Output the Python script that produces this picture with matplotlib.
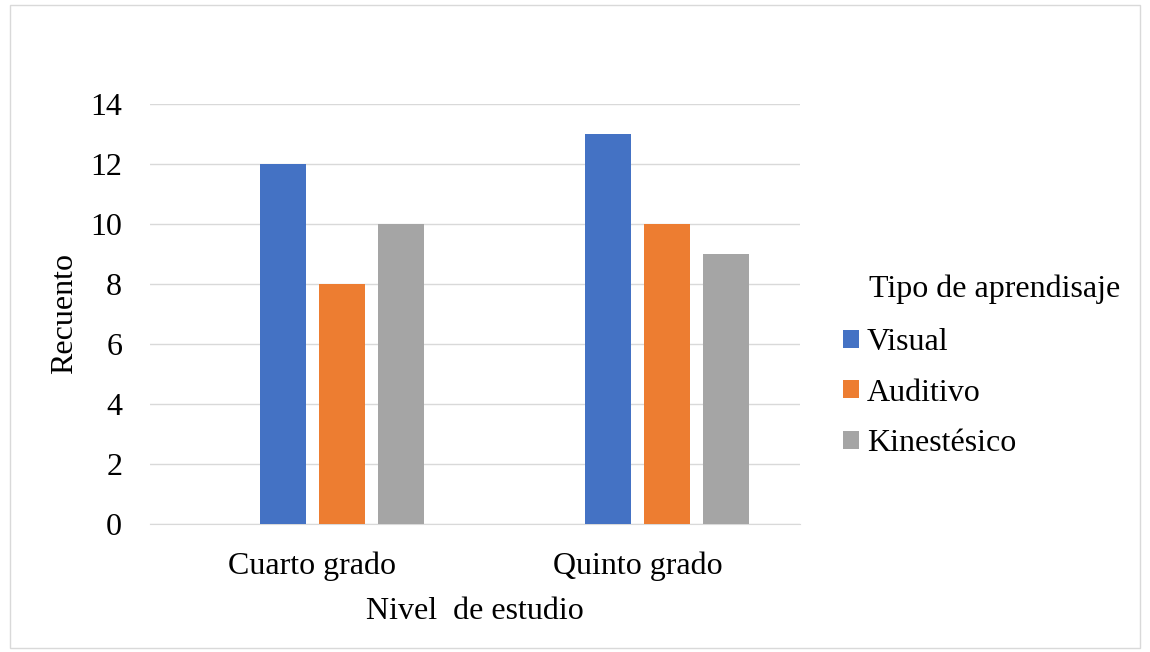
import matplotlib
matplotlib.use("Agg")
import matplotlib.pyplot as plt
import numpy as np
from matplotlib.patches import Rectangle

categories = ["Cuarto grado", "Quinto grado"]
series_names = ["Visual", "Auditivo", "Kinestésico"]
visual = [12, 13]
auditivo = [8, 10]
kinestesico = [10, 9]
colors = ["#4472C4", "#ED7D31", "#A5A5A5"]
legend_title = "Tipo de aprendisaje"

plt.rcParams['font.family'] = ['Liberation Serif', 'DejaVu Serif']
FS = 23

W, H = 1150, 652
fig = plt.figure(figsize=(W / 100, H / 100), dpi=100)
fig.patches.append(Rectangle((10 / W, 4 / H), 1130 / W, 643 / H, transform=fig.transFigure,
                             fill=False, edgecolor="#D9D9D9", linewidth=1))
ax = fig.add_axes([150 / W, (H - 524) / H, 650 / W, 420 / H])

x = np.arange(len(categories))
w = 0.1415
step = 0.1815
# Excel layout: four slots per category, the first slot is empty
n_slots = 4
offsets = (np.arange(n_slots) - (n_slots - 1) / 2) * step
handles = []
for i, (vals, name) in enumerate(zip([visual, auditivo, kinestesico], series_names)):
    b = ax.bar(x + offsets[i + 1], vals, width=w, color=colors[i], label=name, zorder=3)
    handles.append(b)

ax.set_xlim(-0.5, 1.5)
ax.set_ylim(0, 14)
ax.set_yticks(range(0, 15, 2))
ax.yaxis.grid(True, color="#D9D9D9", linewidth=1, zorder=0)
for s in ["top", "right", "left"]:
    ax.spines[s].set_visible(False)
ax.spines["bottom"].set_color("#D9D9D9")
ax.tick_params(axis="both", length=0, labelsize=FS)
ax.tick_params(axis="y", pad=20)
ax.tick_params(axis="x", pad=19.5)
ax.set_xticks(x)
ax.set_xticklabels(categories)
ax.set_ylabel("Recuento", fontsize=FS, labelpad=8)
ax.set_xlabel("Nivel  de estudio", fontsize=FS, labelpad=11.5)

leg = fig.legend(handles=handles, labels=series_names, loc="upper left",
                 bbox_to_anchor=(843 / W, 1 - 328 / H), bbox_transform=fig.transFigure,
                 frameon=False, fontsize=FS, handlelength=0.5, handleheight=0.5,
                 handletextpad=0.25, labelspacing=0.68, borderpad=0, borderaxespad=0)
fig.text(869 / W, 1 - 297 / H, legend_title, fontsize=FS, ha="left", va="baseline")

fig.savefig("out.png", dpi=100)
